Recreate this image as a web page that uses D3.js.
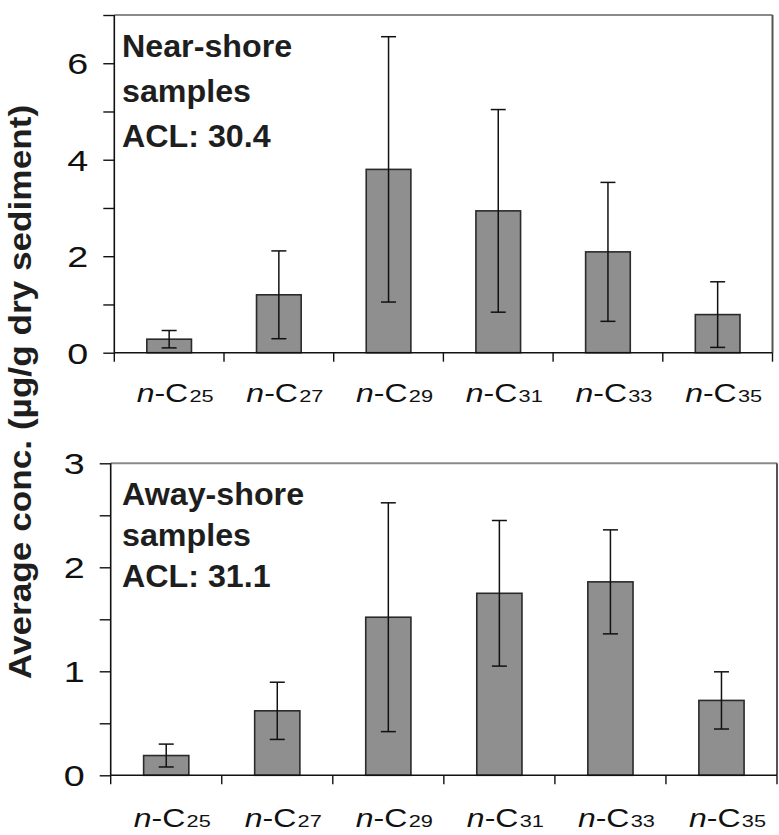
<!DOCTYPE html>
<html>
<head>
<meta charset="utf-8">
<script src="https://cdn.jsdelivr.net/npm/d3@7"></script>
<style>
  html, body { margin: 0; padding: 0; background: #fff; }
  svg { display: block; font-family: "Liberation Sans", Arial, Helvetica, sans-serif; }
</style>
</head>
<body>
<svg id="chart" width="779" height="835"></svg>
<script>
// n-alkane chain lengths
const chains = ["25", "27", "29", "31", "33", "35"];

// Near-shore samples: mean and standard deviation (µg/g dry sediment)
const nearMean = [0.28, 1.20, 3.80, 2.94, 2.09, 0.79];
const nearSd   = [0.18, 0.91, 2.75, 2.10, 1.44, 0.68];
const nearTitle = ["Near-shore", "samples", "ACL: 30.4"];

// Away-shore samples
const awayMean = [0.19, 0.62, 1.52, 1.75, 1.86, 0.72];
const awaySd   = [0.11, 0.275, 1.10, 0.70, 0.50, 0.275];
const awayTitle = ["Away-shore", "samples", "ACL: 31.1"];

// y-axis ticks for each panel
const nearTicks = [0, 1, 2, 3, 4, 5, 6, 7];
const nearLabels = [0, 2, 4, 6];
const awayTicks = [0, 0.5, 1, 1.5, 2, 2.5, 3];
const awayLabels = [0, 1, 2, 3];

const yTitle = "Average conc. (µg/g dry sediment)";

const svg = d3.select("#chart");
const STRETCH = 1.3;

function panel(opts) {
  const { mean, sd, title, ticks, labels, left, right, top, bottom, ymax, labelBase, titleBase, titleStep } = opts;
  const g = svg.append("g");

  const x = d3.scaleBand().domain(chains).range([left, right])
    .paddingInner(0.593).paddingOuter(0.2965);
  const edges = d3.scaleLinear().domain([0, chains.length]).range([left, right]);
  const y = d3.scaleLinear().domain([0, ymax]).range([bottom, top]);

  // frame: top and right borders
  g.append("line").attr("x1", left).attr("x2", right).attr("y1", top).attr("y2", top)
    .attr("stroke", "#8a8a8a").attr("stroke-width", 2);
  g.append("line").attr("x1", right).attr("x2", right).attr("y1", top).attr("y2", bottom)
    .attr("stroke", "#555").attr("stroke-width", 2);

  // bars
  g.selectAll("rect.bar").data(mean).join("rect")
    .attr("class", "bar")
    .attr("x", (d, i) => x(chains[i]))
    .attr("width", x.bandwidth())
    .attr("y", d => y(d))
    .attr("height", d => y(0) - y(d))
    .attr("fill", "#8f8f8f")
    .attr("stroke", "#2a2a2a")
    .attr("stroke-width", 1.6);

  // error bars
  const eb = g.selectAll("g.err").data(mean).join("g").attr("class", "err")
    .attr("stroke", "#111").attr("stroke-width", 1.5);
  const cx = i => x(chains[i]) + x.bandwidth() / 2;
  eb.append("line")
    .attr("x1", (d, i) => cx(i)).attr("x2", (d, i) => cx(i))
    .attr("y1", (d, i) => y(d + sd[i])).attr("y2", (d, i) => y(d - sd[i]));
  eb.append("line")
    .attr("x1", (d, i) => cx(i) - 7.5).attr("x2", (d, i) => cx(i) + 7.5)
    .attr("y1", (d, i) => y(d + sd[i])).attr("y2", (d, i) => y(d + sd[i]));
  eb.append("line")
    .attr("x1", (d, i) => cx(i) - 7.5).attr("x2", (d, i) => cx(i) + 7.5)
    .attr("y1", (d, i) => y(d - sd[i])).attr("y2", (d, i) => y(d - sd[i]));

  // y axis
  const tickSize = 11, pad = 15;
  const ya = g.append("g").attr("transform", `translate(${left},0)`)
    .call(d3.axisLeft(y).tickValues(ticks).tickSize(tickSize).tickPadding(pad)
      .tickFormat(d => labels.includes(d) ? d : ""));
  ya.select(".domain").attr("d", `M0,${top}V${bottom}`).attr("stroke", "#111").attr("stroke-width", 1.6);
  ya.selectAll(".tick line").attr("stroke", "#111").attr("stroke-width", 1.4);
  ya.selectAll(".tick text")
    .attr("x", 0).attr("dy", "0.36em")
    .attr("transform", `translate(${-(tickSize + pad)},0) scale(${STRETCH},1)`)
    .attr("font-size", 29).attr("font-family", "Liberation Sans, Arial, sans-serif")
    .attr("fill", "#111");

  // x axis line and category boundary ticks
  g.append("line").attr("x1", left).attr("x2", right).attr("y1", bottom).attr("y2", bottom)
    .attr("stroke", "#111").attr("stroke-width", 1.6);
  g.selectAll("line.xt").data(d3.range(chains.length + 1)).join("line")
    .attr("class", "xt")
    .attr("x1", d => edges(d)).attr("x2", d => edges(d))
    .attr("y1", bottom).attr("y2", bottom + 9)
    .attr("stroke", "#111").attr("stroke-width", 1.4);

  // category labels: n-C with chain length
  const lab = g.selectAll("text.cat").data(chains).join("text")
    .attr("class", "cat")
    .attr("text-anchor", "middle")
    .attr("transform", d => `translate(${x(d) + x.bandwidth() / 2 + 6},${labelBase}) scale(1.28,1)`)
    .attr("fill", "#111");
  lab.append("tspan").attr("font-style", "italic").attr("font-size", 25).text("n");
  lab.append("tspan").attr("font-size", 25).text("-C");
  lab.append("tspan").attr("font-size", 17).attr("dx", 1).text(d => d);

  // panel annotation
  g.append("text")
    .attr("class", "note")
    .attr("font-weight", "bold").attr("font-size", 31).attr("fill", "#1e1e1e")
    .attr("transform", `translate(122,${titleBase}) scale(1.04,1)`)
    .selectAll("tspan").data(title).join("tspan")
    .attr("x", 0).attr("y", (d, i) => i * titleStep)
    .text(d => d);
}

panel({
  mean: nearMean, sd: nearSd, title: nearTitle,
  ticks: nearTicks, labels: nearLabels, ymax: 7,
  left: 114.3, right: 772.5, top: 15, bottom: 352.7,
  labelBase: 402, titleBase: 57, titleStep: 45
});

panel({
  mean: awayMean, sd: awaySd, title: awayTitle,
  ticks: awayTicks, labels: awayLabels, ymax: 3,
  left: 110.7, right: 777, top: 463.3, bottom: 775.3,
  labelBase: 827, titleBase: 505, titleStep: 41
});

// shared y-axis title
svg.append("text")
  .attr("transform", "translate(31,392) rotate(-90) scale(1.1,1)")
  .attr("text-anchor", "middle")
  .attr("font-weight", "bold")
  .attr("font-size", 32)
  .attr("fill", "#1e1e1e")
  .text(yTitle);
</script>
</body>
</html>
